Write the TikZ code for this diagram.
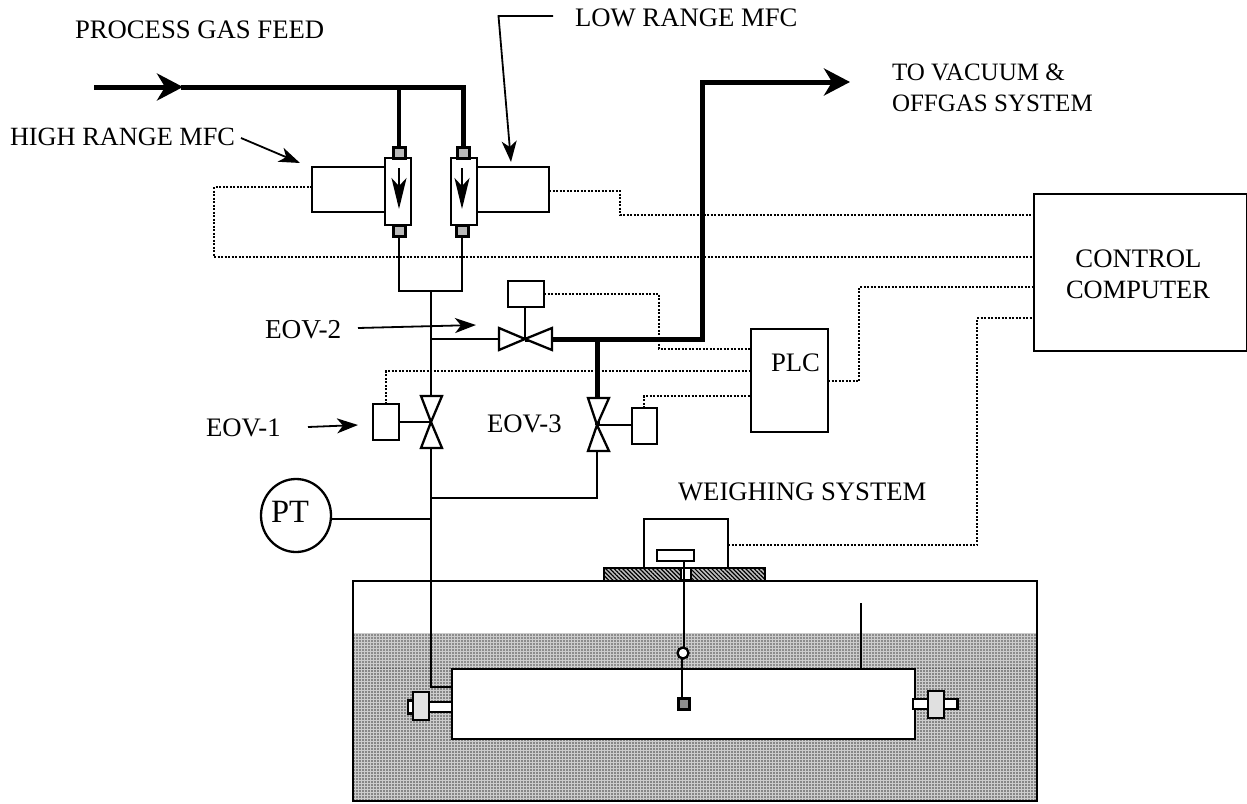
\documentclass[tikz,border=0pt]{standalone}
\usepackage{fontspec}
\setmainfont{Liberation Serif}
\usetikzlibrary{arrows.meta,patterns.meta,shapes.geometric}
\tikzset{
 x=1pt,y=-1pt,
 boxed/.style={draw,line width=2.3pt,fill=white,inner sep=0pt,outer sep=0pt},
 lab/.style={font=\fontsize{26.7}{30}\selectfont,inner sep=0pt,outer sep=0pt,anchor=base west,align=left},
 pipe/.style={line width=2.3pt},
 bigpipe/.style={line width=5pt},
 sig/.style={line width=2pt,dash pattern=on 2pt off 1.5pt},
 lead/.style={line width=1.8pt,-{Stealth[length=21pt,width=15pt,inset=6pt]}},
 flow/.style={line width=1.8pt,-{Stealth[length=31pt,width=15pt,inset=8pt]}},
 big/.style={line width=5pt,-{Stealth[length=26pt,width=27pt,inset=8pt]}},
 port/.style={boxed,line width=3pt,fill=black!28,minimum width=12pt,minimum height=11pt},
 vlv/.style={draw,line width=2.3pt,fill=white,line join=miter},
}
\begin{document}
\begin{tikzpicture}
\useasboundingbox (0,0) rectangle (1247,803);
\fill[white] (0,0) rectangle (1247,803);
% tank
\fill[black!20] (353,633) rectangle (1037,800);
\fill[pattern={Dots[distance=3pt,radius=0.85pt]},pattern color=black!70] (353,633) rectangle (1037,668);
\fill[pattern={Dots[distance=3pt,radius=0.95pt]},pattern color=black!75] (353,668) rectangle (1037,800);
\node[draw,line width=2.3pt,inner sep=0pt,outer sep=0pt,minimum width=684pt,minimum height=220pt] (tank) at (695,691) {};
\node[boxed,minimum width=463pt,minimum height=70pt] (vessel) at (683.5,704) {};
\coordinate (ventTop) at (861,603);
\draw[pipe] (ventTop) -- (vessel.north -| ventTop);
% fittings
\node[boxed,minimum width=23pt,minimum height=10pt] (fitLa) at (440.5,707) {};
\node[boxed,minimum width=8pt,minimum height=13pt] (fitLb) at (412,707) {};
\node[boxed,fill=black!12,minimum width=16pt,minimum height=28pt] (fitLc) at (421,706) {};
\node[boxed,minimum width=15pt,minimum height=10pt] (fitRa) at (920.5,704) {};
\node[boxed,minimum width=14pt,minimum height=10pt] (fitRb) at (950.5,704) {};
\node[boxed,fill=black!12,minimum width=16pt,minimum height=27pt] (fitRc) at (936,704.5) {};
% feed
\coordinate (feedS) at (94,87);
\coordinate (feedM) at (183,87);
\coordinate (feedA) at (399,87);
\coordinate (feedB) at (463,87);
\draw[big] (feedS) -- (feedM);
\draw[bigpipe,line cap=rect] (feedM) -- (feedB);
\node[boxed,minimum width=73pt,minimum height=45pt] (mfcL) at (348.5,189.5) {};
\node[boxed,minimum width=72pt,minimum height=45pt] (mfcR) at (513,189.5) {};
\node[boxed,minimum width=26pt,minimum height=67pt] (fmL) at (398,191.5) {};
\node[boxed,minimum width=26pt,minimum height=67pt] (fmR) at (464,191.5) {};
\node[port] (pLt) at (399,153) {};
\node[port] (pLb) at (399.5,231) {};
\node[port] (pRt) at (463,153) {};
\node[port] (pRb) at (462,231) {};
\draw[line width=4pt] (feedA) -- (pLt.north -| feedA);
\draw[bigpipe] (feedB) -- (pRt);
\coordinate (fa1) at (399,168); \coordinate (fa2) at (399,209);
\coordinate (fb1) at (462,168); \coordinate (fb2) at (462,209);
\draw[flow] (fa1) -- (fa2);
\draw[flow] (fb1) -- (fb2);
\coordinate (mj) at (431,291);
\draw[pipe] (pLb.south -| 399,0) -- (399,291) -- (462,291) -- (pRb.south);
% valves
\coordinate (v1) at (431,422);
\coordinate (v2) at (525,339);
\coordinate (v3) at (597,425);
\coordinate (j2) at (431,339);
\coordinate (j3) at (597,339);
\coordinate (j4) at (431,498);
\coordinate (j5) at (431,519);
\coordinate (bend) at (702,339);
\coordinate (bend2) at (702,82);
\coordinate (ventEnd) at (850,82);
\coordinate (vesselIn) at (431,687);
\draw[pipe] (mj) -- (v1);
\draw[pipe] (v1) -- (vesselIn) -- (vessel.west |- vesselIn);
\draw[pipe] (j4) -- (597,498) -- (v3);
\draw[pipe] (j2) -- (v2);
\draw[bigpipe,line join=miter] (v2) -- (bend) -- (bend2) -- (830,82);
\draw[big] (bend2) -- (ventEnd);
\draw[bigpipe] (j3) -- (v3);
\node[boxed,minimum width=26pt,minimum height=36pt] (a1) at (386,422) {};
\node[boxed,minimum width=36pt,minimum height=26pt] (a2) at (526,294) {};
\node[boxed,minimum width=25pt,minimum height=36pt] (a3) at (644.5,426) {};
\draw[pipe] (a1.east |- v1) -- (v1);
\draw[pipe] (a2.south -| v2) -- (v2);
\draw[pipe] (a3.west |- v3) -- (v3);
\draw[vlv] (v1) -- (421,396) -- (442,396) -- cycle;
\draw[vlv] (v1) -- (421,448) -- (442,448) -- cycle;
\draw[vlv] (v3) -- (588,398) -- (609,398) -- cycle;
\draw[vlv] (v3) -- (588,451) -- (609,451) -- cycle;
\draw[vlv] (v2) -- (499,328) -- (499,350) -- cycle;
\draw[vlv] (v2) -- (552,328) -- (552,350) -- cycle;
% PLC, computer, PT
\node[boxed,minimum width=77pt,minimum height=103pt] (plc) at (789.5,380.5) {};
\node[lab] at (771,371) {PLC};
\node[boxed,minimum width=213pt,minimum height=157pt] (comp) at (1140.5,272.5) {};
\node[lab,anchor=base] (compT) at (1138.5,267) {CONTROL};
\node[lab,anchor=base,font=\fontsize{26.4}{30}\selectfont] (compU) at (1138,298) {COMPUTER};
\node[ellipse,draw,line width=2.3pt,fill=white,inner sep=0pt,outer sep=0pt,minimum width=70pt,minimum height=73pt] (pt) at (296,515.5) {};
\node[lab,font=\fontsize{32.5}{36}\selectfont] (ptT) at (271,522) {PT};
\draw[pipe] (pt.east |- j5) -- (j5);
% weighing
\node[draw,line width=2.5pt,fill=black!25,inner sep=0pt,outer sep=0pt,minimum width=161pt,minimum height=13pt] (plate) at (684.5,574.5) {};
\fill[pattern={Lines[angle=-45,distance=3pt,line width=1.2pt]}] (plate.south west) rectangle (plate.north east);
\draw[line width=2.5pt] (plate.south west) rectangle (plate.north east);
\node[boxed,fill=white,minimum width=84pt,minimum height=49pt] (wbox) at (686,543.5) {};
\node[boxed,line width=2.5pt,minimum width=37pt,minimum height=11pt] (bar) at (675.5,555.5) {};
\node[boxed,line width=2.5pt,minimum width=10pt,minimum height=12pt] (slot) at (686,574) {};
\coordinate (stemTop) at (684,561);
\coordinate (stemBot) at (682,698);
\node[circle,boxed,minimum size=11pt] (ball) at (683,653) {};
\node[port,fill=black!45,minimum width=11pt,minimum height=11pt] (weight) at (684,703.5) {};
\draw[pipe] (stemTop) -- (ball.north -| stemTop);
\draw[pipe] (ball.south -| stemBot) -- (stemBot);
% signals
\draw[sig] (mfcL.west |- 0,187) -- (214,187) -- (214,257) -- (comp.west |- 0,257);
\draw[sig] (mfcR.east |- 0,191) -- (620,191) -- (620,215) -- (comp.west |- 0,215);
\draw[sig] (a2.east) -- (659,294) -- (659,349) -- (plc.west |- 0,349);
\draw[sig] (a1.north) -- (386,371) -- (plc.west |- 0,371);
\draw[sig] (a3.north -| 644,0) -- (644,396) -- (plc.west |- 0,396);
\draw[sig] (plc.east |- 0,381) -- (859,381) -- (859,287) -- (comp.west |- 0,287);
\draw[sig] (wbox.east |- 0,545) -- (977,545) -- (977,318) -- (comp.west |- 0,318);
% labels and leaders
\node[lab] at (75,38) {PROCESS GAS FEED};
\node[lab,font=\fontsize{26.3}{30}\selectfont] (hl) at (10,145) {HIGH RANGE MFC};
\node[lab] (ll) at (575,27) {LOW RANGE MFC};
\node[lab,font=\fontsize{25}{30}\selectfont] at (892,80) {TO VACUUM \&};
\node[lab,font=\fontsize{25}{30}\selectfont] at (892,111) {OFFGAS SYSTEM};
\node[lab,font=\fontsize{27.3}{30}\selectfont] (e2) at (265,338) {EOV-2};
\node[lab] (e1) at (206,436) {EOV-1};
\node[lab] at (487,432) {EOV-3};
\node[lab] at (678,500) {WEIGHING SYSTEM};
\coordinate (lh) at (241,138); \coordinate (lhe) at (300,163);
\coordinate (ll1) at (553,16); \coordinate (ll2) at (498.5,16); \coordinate (lle) at (511,162);
\coordinate (le2) at (358,328); \coordinate (le2e) at (476,325);
\coordinate (le1) at (308,427); \coordinate (le1e) at (358,425);
\draw[lead] (lh) -- (lhe);
\draw[lead] (ll1) -- (ll2) -- (lle);
\draw[lead] (le2) -- (le2e);
\draw[lead] (le1) -- (le1e);
\end{tikzpicture}
\end{document}
